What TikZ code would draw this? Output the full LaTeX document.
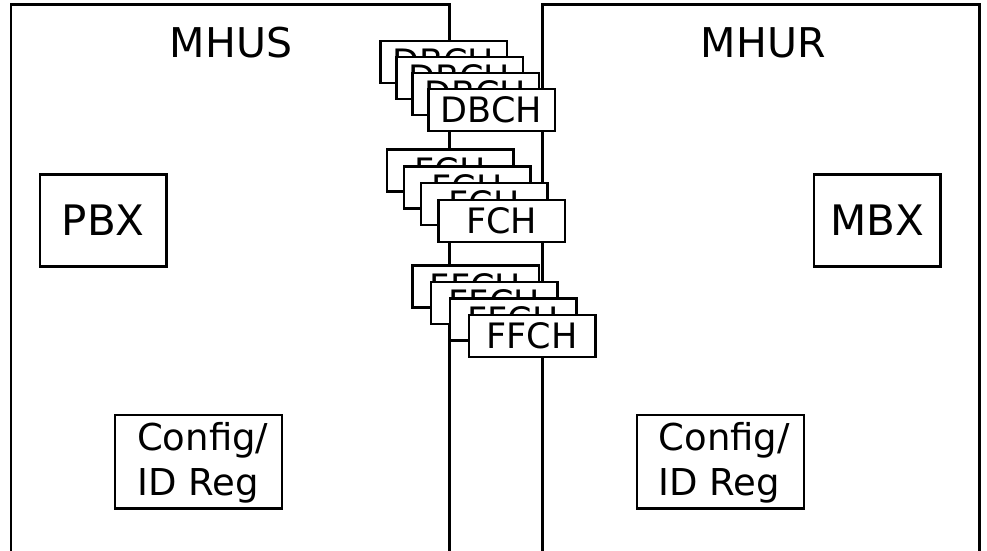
\documentclass[tikz,border=0pt]{standalone}
\usepackage{fontspec}
\setmainfont{DejaVu Sans}
\begin{document}
\begin{tikzpicture}[x=1pt,y=-1pt,
  frame/.style={line width=2.5pt},
  title/.style={anchor=base,inner sep=0pt,font=\fontsize{41}{49}\selectfont},
  unitbox/.style={draw,line width=2.5pt,minimum width=126.7pt,minimum height=92.4pt,inner sep=0pt,font=\fontsize{42}{50}\selectfont},
  cfgbox/.style={draw,line width=2.5pt,minimum width=167pt,minimum height=93.3pt,inner sep=0pt},
  cfgtext/.style={align=left,inner sep=0pt,font=\fontsize{37}{44.7}\selectfont},
  chan/.style={draw,fill=white,line width=2.5pt,minimum width=126.5pt,minimum height=42pt,inner sep=0pt,font=\fontsize{35}{42}\selectfont}]
\useasboundingbox (0,0) rectangle (987,550);

% sender and receiver frames, open at the bottom
\coordinate (sBL) at (11,551);
\coordinate (sTL) at (11,4.5);
\coordinate (sTR) at (449.3,4.5);
\coordinate (sBR) at (449.3,551);
\coordinate (rBL) at (542.7,551);
\coordinate (rTL) at (542.7,4.5);
\coordinate (rTR) at (979.5,4.5);
\coordinate (rBR) at (979.5,551);
\draw[frame] (sBL) -- (sTL) -- (sTR) -- (sBR);
\draw[frame] (rBL) -- (rTL) -- (rTR) -- (rBR);

\node[title] (mhus) at (231,57.7) {MHUS};
\node[title] (mhur) at (763.2,57.7) {MHUR};

\node[unitbox] (pbx) at (103.3,220.5) {PBX};
\node[unitbox] (mbx) at (877.3,220.5) {MBX};

\node[cfgbox] (cfgS) at (198.7,461.7) {};
\node[cfgtext] (cfgStext) at ([xshift=4pt,yshift=-1pt]cfgS.center) {Config/\\ID Reg};
\node[cfgbox] (cfgR) at (720.3,461.7) {};
\node[cfgtext] (cfgRtext) at ([xshift=4pt,yshift=-1pt]cfgR.center) {Config/\\ID Reg};

% stacked channel boxes crossing the gap
\foreach \i/\px/\py in {1/443.5/62, 2/459.5/78, 3/475.5/94, 4/491.5/110}
  \node[chan] (dbch\i) at (\px,\py) {DBCH};
\foreach \i/\px/\py in {1/450/170.5, 2/467.2/187.3, 3/484.3/204.2, 4/501.5/221}
  \node[chan] (fch\i) at (\px,\py) {FCH};
\foreach \i/\px/\py in {1/475.5/286.5, 2/494.3/303, 3/513.2/319.5, 4/532/336}
  \node[chan] (ffch\i) at (\px,\py) {FFCH};
\end{tikzpicture}
\end{document}
